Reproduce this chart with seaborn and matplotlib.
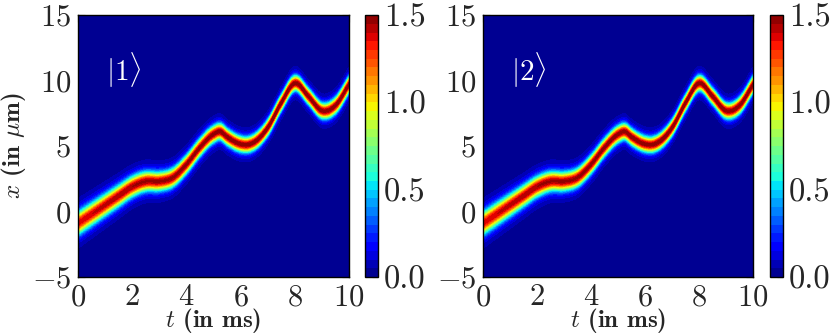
import numpy as np
import matplotlib
matplotlib.use("Agg")
import matplotlib.pyplot as plt
import seaborn as sns

# centre of the wave packet (t in ms, x in um)
t_pts = np.array([0, 0.5, 1, 1.5, 2, 2.5, 3, 3.5, 4, 4.5, 5, 5.25, 5.5, 6, 6.25, 6.5, 7, 7.5, 8, 8.5, 9, 9.5, 10])
x_pts = np.array([-0.9, -0.2, 0.5, 1.2, 1.9, 2.3, 2.3, 2.6, 3.6, 4.9, 5.9, 6.1, 5.7, 5.15, 5.1, 5.3, 6.4, 8.3, 9.8, 8.8, 7.7, 8.1, 9.7])
# packet width (um) and peak density, read at a few times
t_w = np.array([0, 2, 4, 6, 8, 10])
widths = np.array([0.55, 0.48, 0.42, 0.37, 0.36, 0.38])
peaks = np.array([1.38, 1.45, 1.46, 1.48, 1.48, 1.47])
states = [r"$|1\rangle$", r"$|2\rangle$"]
levels = np.linspace(0, 1.5, 31)
cbar_ticks = [0.0, 0.5, 1.0, 1.5]
cbar_labels = ["0.0", "0.5", "1.0", "1.5"]


def hermite(tp, xp, tq):
    m = np.gradient(xp, tp)
    i = np.clip(np.searchsorted(tp, tq) - 1, 0, len(tp) - 2)
    h = tp[i + 1] - tp[i]
    s = (tq - tp[i]) / h
    return ((2*s**3 - 3*s**2 + 1) * xp[i] + (s**3 - 2*s**2 + s) * h * m[i]
            + (-2*s**3 + 3*s**2) * xp[i + 1] + (s**3 - s**2) * h * m[i + 1])


sns.set_style("ticks")
plt.rcParams.update({
    "font.family": "serif",
    "font.serif": ["cmr10"],
    "mathtext.fontset": "cm",
    "axes.formatter.use_mathtext": True,
    "xtick.direction": "in", "ytick.direction": "in",
    "xtick.top": True, "ytick.right": True,
    "xtick.major.size": 5, "ytick.major.size": 5,
    "axes.edgecolor": "black", "axes.linewidth": 1.0,
})

tt = np.linspace(0, 10, 600)
xx = np.linspace(-5, 15, 600)
centre = hermite(t_pts, x_pts, tt)
sig = hermite(t_w, widths, tt)
amp = hermite(t_w, peaks, tt)
T, X = np.meshgrid(tt, xx)
d2 = (X - centre[None, :])**2
Z = amp[None, :] * (0.87 * np.exp(-d2 / (2 * sig[None, :]**2))
                    + 0.13 * np.exp(-d2 / (9 * sig[None, :]**2)))

cmap = matplotlib.colormaps["jet"]

fig = plt.figure(figsize=(8.3, 3.35), dpi=100)
ax_boxes = [[0.094, 0.173, 0.3265, 0.782], [0.582, 0.173, 0.3253, 0.782]]
cb_boxes = [[0.4395, 0.173, 0.0165, 0.782], [0.9277, 0.173, 0.016, 0.782]]

for k in range(2):
    ax = fig.add_axes(ax_boxes[k])
    cs = ax.contourf(T, X, Z, levels=levels, cmap=cmap)
    ax.set_xlim(0, 10)
    ax.set_ylim(-5, 15)
    ax.set_xticks([0, 2, 4, 6, 8, 10])
    ax.set_yticks([-5, 0, 5, 10, 15])
    ax.tick_params(labelsize=22, pad=5)
    ax.set_xlabel(r"$t$ (in ms)", fontsize=18, family="cmb10", va="top")
    ax.xaxis.set_label_coords(0.5, -0.112)
    if k == 0:
        ax.set_ylabel(r"$x$ (in $\mu$m)", fontsize=18, family="cmb10")
        ax.yaxis.set_label_coords(-0.185, 0.5)
    ax.text(1.05, 10.8, states[k], color="white", fontsize=21, va="center", ha="left")

    cax = fig.add_axes(cb_boxes[k])
    cb = fig.colorbar(cs, cax=cax, ticks=cbar_ticks)
    cb.ax.set_yticklabels(cbar_labels)
    cb.ax.tick_params(labelsize=23.5, direction="in", length=4, pad=4)
    cb.outline.set_linewidth(1.0)

fig.savefig("out.png", dpi=100)
